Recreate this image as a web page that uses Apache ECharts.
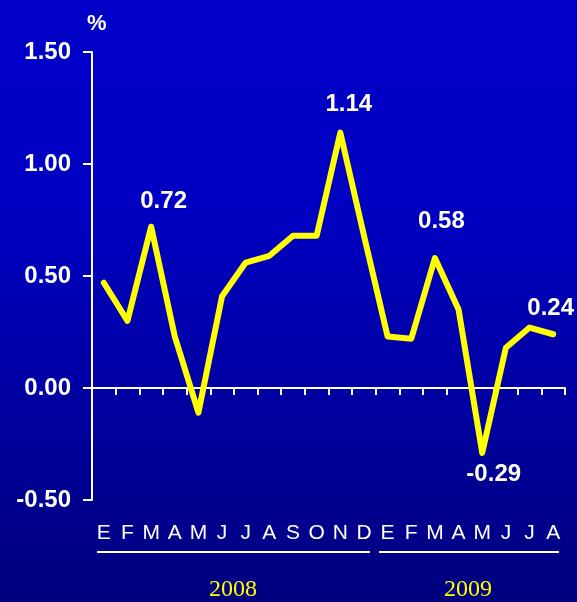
<!DOCTYPE html>
<html>
<head>
<meta charset="utf-8">
<script src="https://cdn.jsdelivr.net/npm/echarts@6/dist/echarts.min.js"></script>
<style>
html,body{margin:0;padding:0;background:#0000C0;}
#chart{width:577px;height:602px;}
</style>
</head>
<body>
<div id="chart"></div>
<script>
// ---- data ----
const months = ['E','F','M','A','M','J','J','A','S','O','N','D','E','F','M','A','M','J','J','A'];
const values = [0.47, 0.30, 0.72, 0.23, -0.11, 0.41, 0.56, 0.59, 0.68, 0.68, 1.14, 0.68,
                0.23, 0.22, 0.58, 0.35, -0.29, 0.18, 0.27, 0.24];
const labeledIndices = [2, 10, 14, 16, 19];
const yTicks = [-0.5, 0, 0.5, 1.0, 1.5];
const years = ['2008', '2009'];

// ---- label placement (layout, not data): centre of label relative to the point ----
const labelLayout = {
  2:  [13, -25],
  10: [9, -28],
  14: [7, -36],
  16: [12, 22],
  19: [-2, -25]
};

const seriesData = values.map((v, i) => {
  if (labeledIndices.indexOf(i) >= 0) {
    const L = labelLayout[i];
    return {value: v, label: {show: true, position: L, align: 'center', verticalAlign: 'middle'}};
  }
  return v;
});

const chart = echarts.init(document.getElementById('chart'), null, {renderer:'canvas'});
const white = '#FFFFFF';
const option = {
  animation: false,
  backgroundColor: {
    type: 'linear', x: 0, y: 0, x2: 0, y2: 1,
    colorStops: [
      {offset: 0, color: '#0000C8'},
      {offset: 0.35, color: '#0000C2'},
      {offset: 1, color: '#00007E'}
    ]
  },
  grid: {left: 92, top: 52, right: 12, bottom: 102, containLabel: false},
  xAxis: [
    {
      type: 'category', data: months, boundaryGap: true,
      axisLine: {onZero: true, lineStyle: {color: white, width: 2}},
      axisTick: {show: true, inside: false, length: 7, alignWithLabel: false, lineStyle: {color: white, width: 2}},
      axisLabel: {show: false},
      splitLine: {show: false}
    },
    {
      type: 'category', data: months, boundaryGap: true, position: 'bottom',
      axisLine: {show: false, onZero: false},
      axisTick: {show: false},
      axisLabel: {show: true, interval: 0, margin: 23, color: white,
        fontFamily: 'Liberation Sans, Arial, sans-serif', fontSize: 21, fontWeight: 'normal'},
      splitLine: {show: false}
    }
  ],
  yAxis: {
    type: 'value', min: yTicks[0], max: yTicks[yTicks.length - 1], interval: 0.5,
    axisLine: {show: true, onZero: false, lineStyle: {color: white, width: 2}},
    axisTick: {show: true, inside: false, length: 9, lineStyle: {color: white, width: 2}},
    axisLabel: {margin: 21, color: white, fontFamily: 'Liberation Sans, Arial, sans-serif',
      fontSize: 24, fontWeight: 'bold', formatter: v => v.toFixed(2)},
    splitLine: {show: false}
  },
  series: [{
    type: 'line', xAxisIndex: 0, data: seriesData,
    symbol: 'circle', symbolSize: 1, showSymbol: true, smooth: false,
    itemStyle: {color: '#FFFF00'},
    lineStyle: {color: '#FFFF00', width: 6, cap: 'round', join: 'round'},
    label: {show: false, color: '#FFFFEE', fontFamily: 'Liberation Sans, Arial, sans-serif',
      fontSize: 24, fontWeight: 'bold', formatter: p => Number(p.value).toFixed(2)},
    labelLayout: {hideOverlap: false},
    z: 5
  }],
  graphic: [
    {type: 'text', left: 87, top: 13, style: {text: '%', fill: white,
      font: 'bold 22px "Liberation Sans", Arial, sans-serif'}},
    {type: 'line', shape: {x1: 97, y1: 552, x2: 370, y2: 552}, style: {stroke: '#FFFFF0', lineWidth: 2}},
    {type: 'line', shape: {x1: 379, y1: 552, x2: 559, y2: 552}, style: {stroke: '#FFFFF0', lineWidth: 2}},
    {type: 'text', x: 233, y: 590, style: {text: years[0], fill: '#FFFF00', align: 'center', verticalAlign: 'middle',
      font: '24px "Liberation Serif", "Times New Roman", serif'}},
    {type: 'text', x: 468, y: 590, style: {text: years[1], fill: '#FFFF00', align: 'center', verticalAlign: 'middle',
      font: '24px "Liberation Serif", "Times New Roman", serif'}}
  ]
};
chart.setOption(option);
</script>
</body>
</html>
